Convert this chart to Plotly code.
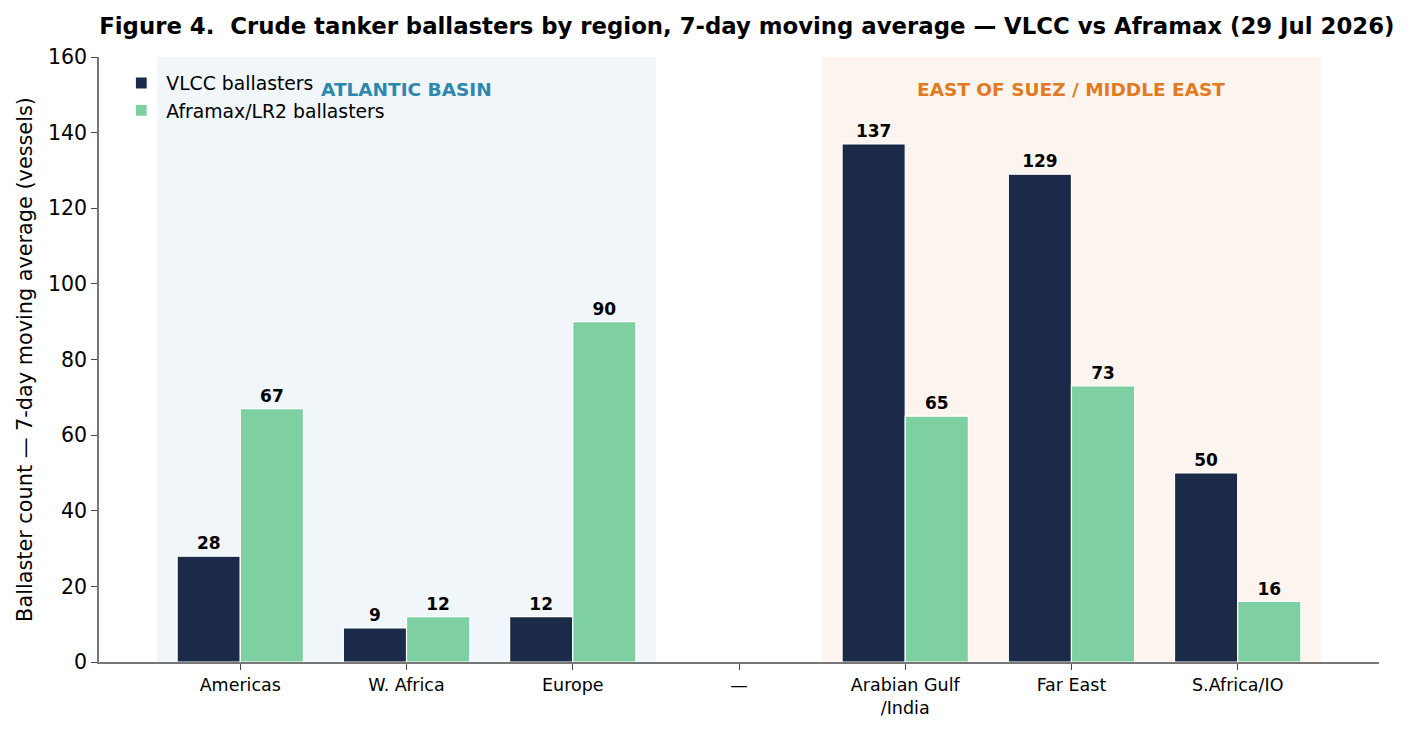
import plotly.graph_objects as go

# Dati
regions = ["Americas", "W. Africa", "Europe", "—", "Arabian Gulf<br>/India", "Far East", "S.Africa/IO"]
vlcc = [28, 9, 12, None, 137, 129, 50]
aframax = [67, 12, 90, None, 65, 73, 16]

FONT = "DejaVu Sans"
VLCC_COLOR = "#1c2a4a"
AFRA_COLOR = "#7ecfa1"

fig = go.Figure()

def add_series(name, values, color):
    labels = ["" if v is None else f"<b>{v}</b>" for v in values]
    fig.add_trace(go.Bar(
        x=list(range(len(regions))), y=values, name=name,
        marker=dict(color=color, line=dict(color="white", width=1.2)),
        text=labels, textposition="outside", cliponaxis=False,
        textfont=dict(family=FONT, size=17, color="black"),
    ))

add_series("VLCC ballasters", vlcc, VLCC_COLOR)
add_series("Aframax/LR2 ballasters", aframax, AFRA_COLOR)

# Zone ombreggiate
fig.add_shape(type="rect", xref="x", yref="paper", x0=-0.5, x1=2.5, y0=0, y1=1,
              fillcolor="#f0f6fa", line=dict(width=0), layer="below")
fig.add_shape(type="rect", xref="x", yref="paper", x0=3.5, x1=6.5, y0=0, y1=1,
              fillcolor="#fcf4ee", line=dict(width=0), layer="below")
fig.add_annotation(x=1, y=151.5, xref="x", yref="y", text="<b>ATLANTIC BASIN</b>",
                   showarrow=False, font=dict(family=FONT, size=18.5, color="#2e88ad"))
fig.add_annotation(x=5, y=151.5, xref="x", yref="y", text="<b>EAST OF SUEZ / MIDDLE EAST</b>",
                   showarrow=False, font=dict(family=FONT, size=18.5, color="#e07b22"))

fig.update_layout(
    width=1410, height=731,
    plot_bgcolor="white", paper_bgcolor="white",
    barmode="group", bargap=0.24, bargroupgap=0,
    margin=dict(l=91, r=39, t=49, b=77),
    font=dict(family=FONT, size=20, color="black"),
    title=dict(text="<b>Figure 4.  Crude tanker ballasters by region, 7-day moving average — VLCC vs Aframax (29 Jul 2026)</b>",
               x=0.524, xanchor="center", y=0.975, yanchor="middle",
               font=dict(family=FONT, size=22.8, color="black")),
    legend=dict(x=0.0135, y=0.988, xanchor="left", yanchor="top",
                bgcolor="rgba(255,255,255,0)", font=dict(family=FONT, size=18.8),
                itemwidth=40, tracegroupgap=0),
    showlegend=True,
)

fig.update_xaxes(
    tickmode="array", tickvals=list(range(len(regions))), ticktext=regions,
    range=[-0.85, 6.85], showgrid=False, zeroline=False,
    showline=True, linecolor="#777777", linewidth=1.5,
    ticks="outside", ticklen=6, tickcolor="#444444",
    tickfont=dict(family=FONT, size=17.5),
)
fig.update_yaxes(
    range=[0, 160], dtick=20, showgrid=False, zeroline=False,
    showline=True, linecolor="#777777", linewidth=1.5,
    ticks="outside", ticklen=6, tickcolor="#444444",
    tickfont=dict(family=FONT, size=20.5),
    title=dict(text="Ballaster count — 7-day moving average (vessels)",
               font=dict(family=FONT, size=20.8), standoff=10),
)

fig.write_html("out.html")
